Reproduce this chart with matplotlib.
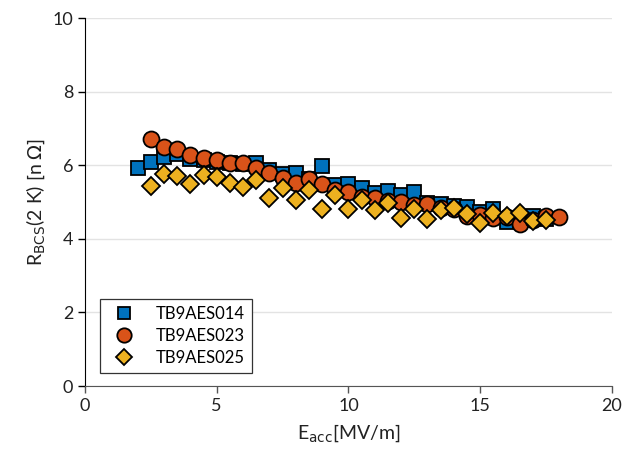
import numpy as np
import matplotlib.pyplot as plt

# ---------------------------------------------------------
# R_BCS(2 K) vs accelerating gradient for three cavities
# ---------------------------------------------------------

e_014 = [2.0, 2.5, 3.0, 3.5, 4.0, 4.5, 5.0, 5.5, 6.0, 6.5, 7.0, 7.5, 8.0, 8.5,
         9.0, 9.5, 10.0, 10.5, 11.0, 11.5, 12.0, 12.5, 13.0, 13.5, 14.0, 14.5,
         15.0, 15.5, 16.0, 16.5, 17.0, 17.5]
r_014 = [5.92, 6.08, 6.22, 6.30, 6.17, 6.14, 6.10, 6.06, 6.04, 6.07, 5.87, 5.76,
         5.80, 5.62, 5.99, 5.46, 5.50, 5.37, 5.25, 5.30, 5.19, 5.26, 4.98, 4.96,
         4.88, 4.87, 4.74, 4.82, 4.45, 4.48, 4.62, 4.55]

e_023 = [2.5, 3.0, 3.5, 4.0, 4.5, 5.0, 5.5, 6.0, 6.5, 7.0, 7.5, 8.0, 8.5, 9.0,
         9.5, 10.0, 10.5, 11.0, 11.5, 12.0, 12.5, 13.0, 13.5, 14.0, 14.5, 15.0,
         15.5, 16.0, 16.5, 17.0, 17.5, 18.0]
r_023 = [6.71, 6.50, 6.43, 6.28, 6.20, 6.14, 6.07, 6.05, 5.92, 5.78, 5.66, 5.51,
         5.63, 5.49, 5.33, 5.27, 5.15, 5.10, 5.04, 5.01, 4.93, 4.96, 4.84, 4.80,
         4.62, 4.66, 4.56, 4.60, 4.40, 4.50, 4.63, 4.59]

e_025 = [2.5, 3.0, 3.5, 4.0, 4.5, 5.0, 5.5, 6.0, 6.5, 7.0, 7.5, 8.0, 8.5, 9.0,
         9.5, 10.0, 10.5, 11.0, 11.5, 12.0, 12.5, 13.0, 13.5, 14.0, 14.5, 15.0,
         15.5, 16.0, 16.5, 17.0, 17.5]
r_025 = [5.44, 5.75, 5.71, 5.48, 5.73, 5.69, 5.51, 5.42, 5.60, 5.10, 5.37, 5.05,
         5.33, 4.80, 5.19, 4.80, 5.05, 4.78, 4.98, 4.56, 4.80, 4.53, 4.78, 4.83,
         4.67, 4.42, 4.69, 4.62, 4.71, 4.49, 4.51]

plt.rcParams['font.family'] = ['Lato', 'DejaVu Sans']

fig = plt.figure(figsize=(6.25, 4.51), dpi=100)
ax = fig.add_axes([0.136, 0.144, 0.843, 0.816])

ax.plot(e_014, r_014, linestyle='none', marker='s', markersize=9.5,
        markerfacecolor='#0072BD', markeredgecolor='black', markeredgewidth=1.3,
        label='TB9AES014')
ax.plot(e_023, r_023, linestyle='none', marker='o', markersize=11.5,
        markerfacecolor='#D95319', markeredgecolor='black', markeredgewidth=1.3,
        label='TB9AES023')
ax.plot(e_025, r_025, linestyle='none', marker='D', markersize=9.5,
        markerfacecolor='#EDB120', markeredgecolor='black', markeredgewidth=1.3,
        label='TB9AES025')

# Axes and labels

ax.set_xlim(0, 20)
ax.set_ylim(0, 10)
ax.set_xticks([0, 5, 10, 15, 20])
ax.set_yticks([0, 2, 4, 6, 8, 10])
ax.yaxis.grid(True, color='#e3e3e3', linewidth=1.0)
ax.set_axisbelow(True)

for side in ['top', 'right']:
    ax.spines[side].set_visible(False)
ax.spines['left'].set_color('black')
ax.spines['bottom'].set_color('#555555')
ax.tick_params(axis='both', labelsize=13, direction='out', length=5, width=1,
               color='#555555', labelcolor='#222222')
ax.tick_params(axis='y', color='black')

ax.set_xlabel(r'E$_{\mathrm{acc}}$[MV/m]', fontsize=14, color='#222222', labelpad=6)
ax.set_ylabel(r'R$_{\mathrm{BCS}}$(2 K) [n $\Omega$]', fontsize=14, color='#222222')

leg = ax.legend(loc='lower left', bbox_to_anchor=(0.012, 0.012), fontsize=12,
                fancybox=False, edgecolor='#333333', framealpha=1.0,
                borderpad=0.45, labelspacing=0.35, handletextpad=0.9,
                handlelength=2.0, markerscale=0.9)
leg.get_frame().set_linewidth(0.9)

plt.savefig('out.png', dpi=100)
plt.close()
